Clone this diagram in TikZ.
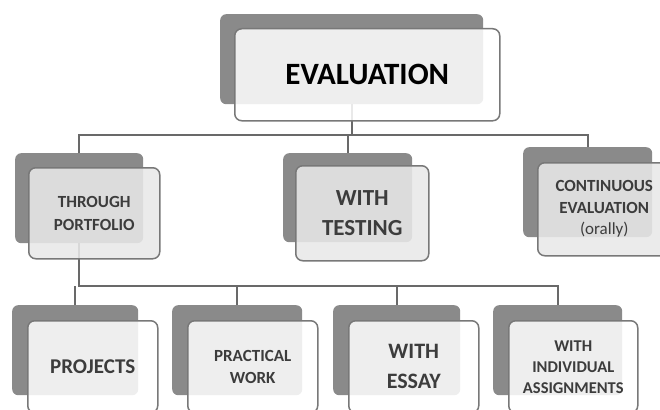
\documentclass[tikz,border=0pt]{standalone}
\usepackage{fontspec}
\setmainfont{Carlito}
\definecolor{backgray}{RGB}{138,138,138}
\definecolor{edgegray}{RGB}{120,120,120}
\definecolor{linegray}{RGB}{105,105,105}
\definecolor{txtgray}{RGB}{60,60,60}
\definecolor{midfill}{RGB}{232,232,232}
\begin{document}
\begin{tikzpicture}[x=1pt,y=-1pt,
  backbox/.style={fill=backgray, rounded corners=6pt, inner sep=0pt, anchor=north west},
  frontbox/.style={draw=edgegray, line width=1.5pt, fill=white, fill opacity=0.86, text opacity=1,
     rounded corners=7pt, inner sep=0pt, anchor=north west, align=center, text=txtgray},
  midbox/.style={frontbox, fill=midfill, fill opacity=0.88},
  conn/.style={draw=linegray, line width=2.2pt}]
\useasboundingbox (0,0) rectangle (660,409);
\clip (0,0) rectangle (660,409);

% back boxes (named, used as connector ends)
\node[backbox, minimum width=263pt, minimum height=90pt] (evalB) at (220,14) {};
\node[backbox, minimum width=128pt, minimum height=90pt] (portB) at (15,153) {};
\node[backbox, minimum width=129pt, minimum height=89pt] (tstB) at (283,153) {};
\node[backbox, minimum width=129pt, minimum height=90pt] (contB) at (523,147) {};
\node[backbox, minimum width=126pt, minimum height=90pt] (projB) at (12,305) {};
\node[backbox, minimum width=130pt, minimum height=90pt] (pracB) at (172,305) {};
\node[backbox, minimum width=127pt, minimum height=90pt] (essB) at (333,305) {};
\node[backbox, minimum width=129pt, minimum height=90pt] (indB) at (493,305) {};

% connectors
\coordinate (bus1) at (0,135);
\coordinate (bus2) at (0,286);
\draw[conn] (evalB.south) -- (evalB.south |- bus1);
\draw[conn] (portB.north) -- (portB.north |- bus1) -- (contB.north |- bus1) -- (contB.north);
\draw[conn] (tstB.north |- bus1) -- (tstB.north);
\draw[conn] (portB.south) -- (portB.south |- bus2) -- (indB.north |- bus2) -- (indB.north);
\draw[conn] (projB.north |- bus2) -- (projB.north);
\draw[conn] (pracB.north |- bus2) -- (pracB.north);
\draw[conn] (essB.north |- bus2) -- (essB.north);

% front boxes
\node[frontbox, minimum width=265pt, minimum height=92pt, text=black,
  font=\bfseries\fontsize{31}{34}\selectfont] (eval) at (234,28) {EVALUATION};
\node[midbox, minimum width=131pt, minimum height=91pt,
  font=\bfseries\fontsize{17}{23}\selectfont] (port) at (28,167) {THROUGH\\PORTFOLIO};
\node[midbox, minimum width=133pt, minimum height=95pt,
  font=\bfseries\fontsize{23}{30}\selectfont] (tst) at (295,165) {WITH\\TESTING};
\node[midbox, minimum width=133pt, minimum height=93pt,
  font=\bfseries\fontsize{17}{21.5}\selectfont] (cont) at (537,162) {CONTINUOUS\\EVALUATION\\\mdseries(orally)};
\node[frontbox, minimum width=130pt, minimum height=92pt,
  font=\bfseries\fontsize{21}{24}\selectfont] (proj) at (27,320) {PROJECTS};
\node[frontbox, minimum width=130pt, minimum height=92pt,
  font=\bfseries\fontsize{17}{22}\selectfont] (prac) at (187,320) {PRACTICAL\\WORK};
\node[frontbox, minimum width=130pt, minimum height=92pt,
  font=\bfseries\fontsize{22}{30}\selectfont] (ess) at (348,320) {WITH\\ESSAY};
\node[frontbox, minimum width=129pt, minimum height=92pt,
  font=\bfseries\fontsize{16.5}{21}\selectfont] (ind) at (508,320) {WITH\\INDIVIDUAL\\ASSIGNMENTS};
\end{tikzpicture}
\end{document}
